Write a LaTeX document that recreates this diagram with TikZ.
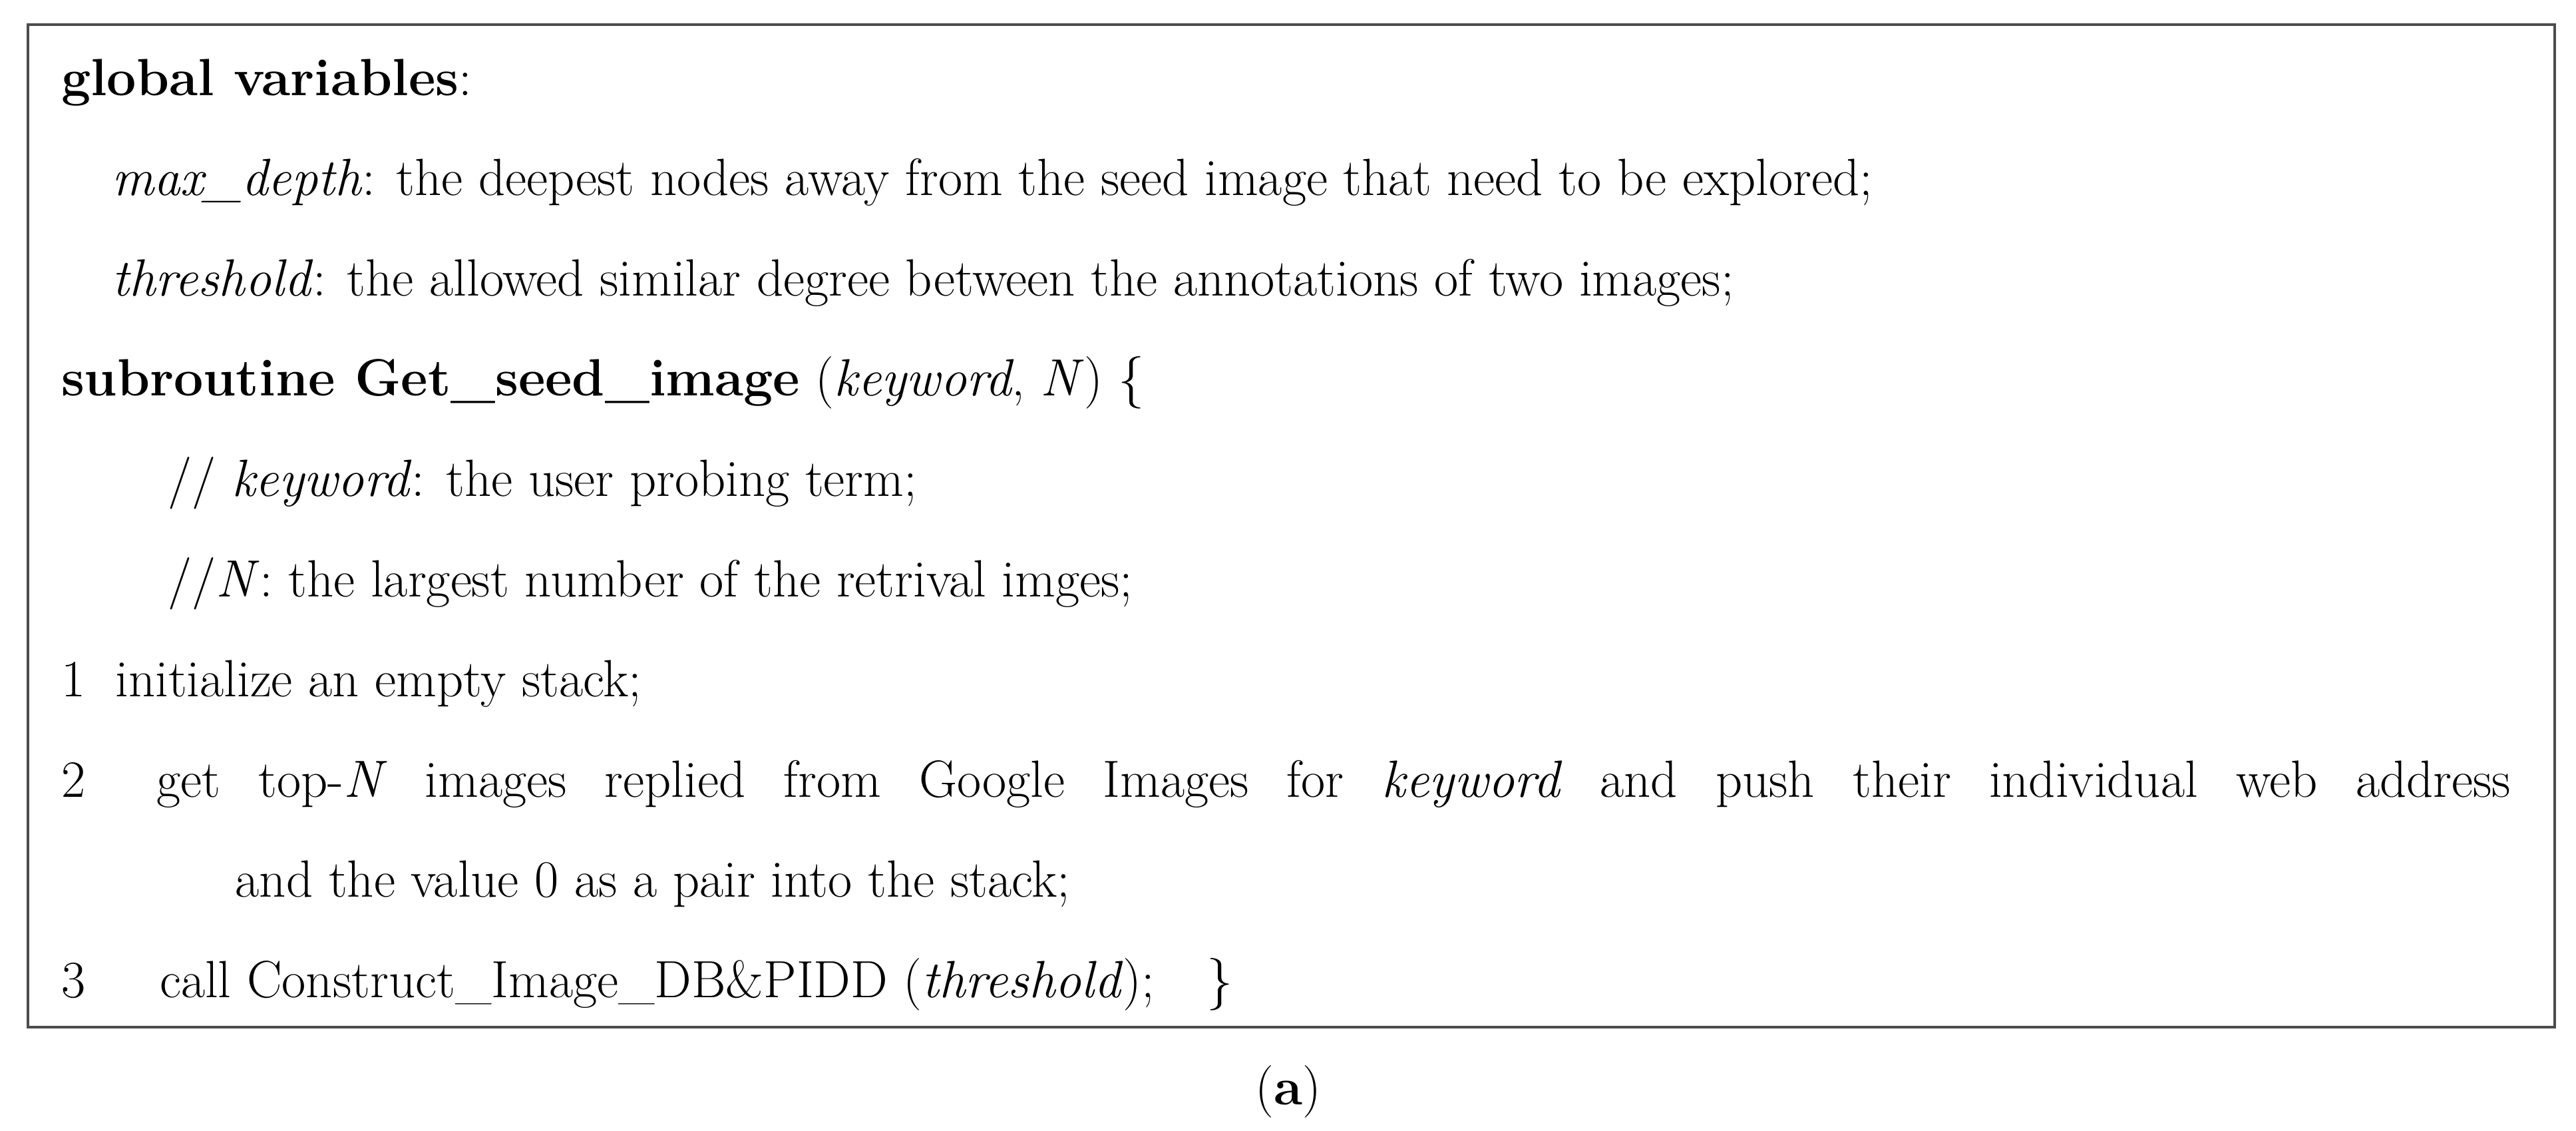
\documentclass[tikz,border=0pt]{standalone}
\begin{document}
\begin{tikzpicture}[x=0.0247cm,y=-0.0247cm,
  t/.style={anchor=base west,inner sep=0pt,font=\fontsize{22.4}{27}\selectfont}]
\useasboundingbox (0,0) rectangle (1568,688);
\draw[line width=1.2pt,black!70] (17,15) rectangle (1555,625);
\node[t] (l1) at (37,58) {\textbf{global variables}:};
\node[t] (l2) at (68,119) {\textit{max\_depth}: the deepest nodes away from the seed image that need to be explored;};
\node[t] (l3) at (68,180) {\textit{threshold}: the allowed similar degree between the annotations of two images;};
\node[t] (l4) at (37,241) {\textbf{subroutine Get\_seed\_image} (\textit{keyword}, \textit{N}) \{};
\node[t] (l5) at (102,302) {// \textit{keyword}: the user probing term;};
\node[t] (l6) at (102,363) {//\textit{N}: the largest number of the retrival imges;};
\node[t] (n1) at (37,424) {1};
\node[t] (l7) at (70,424) {initialize an empty stack;};
\node[t] (n2) at (37,485) {2};
\node[t] (l8) at (95,485) {\makebox[35.4cm][s]{get top-\textit{N} images replied from Google Images for \textit{keyword} and push their individual web address}};
\node[t] (l9) at (143,546) {and the value 0 as a pair into the stack;};
\node[t] (n3) at (37,607) {3};
\node[t] (l10) at (97,607) {call Construct\_Image\_DB\&PIDD (\textit{threshold});\quad\}};
\node[t,anchor=base] (cap) at (784,672) {(\textbf{a})};
\end{tikzpicture}
\end{document}
